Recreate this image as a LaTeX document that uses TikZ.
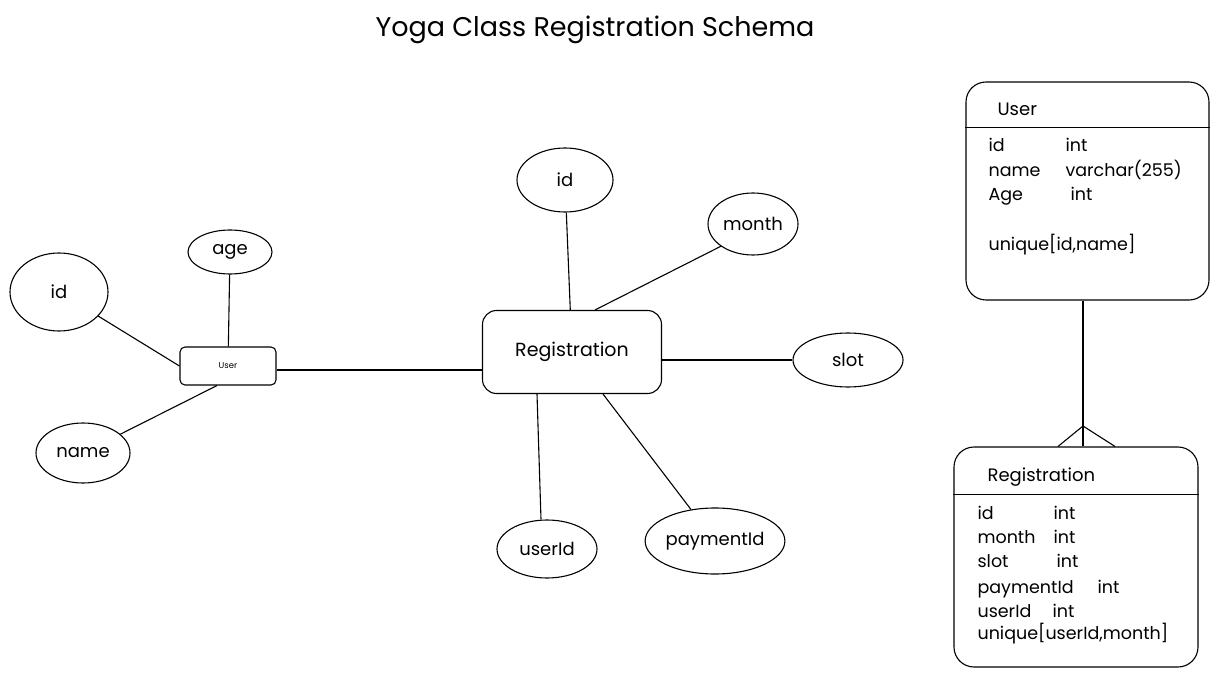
\documentclass[tikz,border=0pt]{standalone}
\usepackage{fontspec}
\setmainfont{Poppins}
\usetikzlibrary{shapes.geometric}
\begin{document}
\begin{tikzpicture}[x=1pt,y=-1pt,line width=1.1pt,
  attr/.style={ellipse,draw,inner sep=0pt,font=\fontsize{18}{20}\selectfont},
  entity/.style={rectangle,draw,rounded corners=14pt,inner sep=0pt,font=\fontsize{19}{21}\selectfont},
  smallentity/.style={rectangle,draw,rounded corners=5pt,inner sep=0pt,font=\fontsize{8.5}{10}\selectfont},
  tbl/.style={rectangle,draw,rounded corners=20pt,inner sep=0pt},
  row/.style={anchor=west,inner sep=0pt,text height=12pt,text depth=4pt,font=\fontsize{17.5}{19}\selectfont},
  conn/.style={line width=1.1pt}]
\useasboundingbox (0,0) rectangle (1218,687);
\fill[white] (0,0) rectangle (1218,687);

% title
\node[font=\fontsize{27}{31}\selectfont] (title) at (595,30) {Yoga Class Registration Schema};

% left ER part
\node[attr,minimum width=98pt,minimum height=78pt] (lid) at (59,292) {id};
\node[attr,minimum width=84pt,minimum height=44pt] (age) at (230,252) {age};
\node[smallentity,minimum width=96pt,minimum height=38pt] (user) at (228,366) {User};
\node[attr,minimum width=94pt,minimum height=60pt] (name) at (83,453) {name};

\node[entity,minimum width=179pt,minimum height=83pt] (reg) at (572,352) {Registration};
\node[attr,minimum width=96pt,minimum height=64pt] (rid) at (565,180) {id};
\node[attr,minimum width=90pt,minimum height=62pt] (month) at (753,224) {month};
\node[attr,minimum width=110pt,minimum height=54pt] (slot) at (848,360) {slot};
\node[attr,minimum width=100pt,minimum height=58pt] (uid) at (547,549) {userId};
\node[attr,minimum width=118pt,minimum height=66pt] (pid) at (715,541) {paymentId};

\draw[conn] (lid) -- (user.west);
\draw[conn] (age) -- (user);
\draw[conn] (name) -- ([xshift=-11pt]user.south);
\draw[conn] ([yshift=-4pt]user.east) -- ([yshift=-4pt]user.east -| reg.west);

\draw[conn] (rid) -- (reg);
\draw[conn] (month.south west) -- ([xshift=23pt]reg.north);
\draw[conn] (reg.east |- slot.west) -- (slot.west);
\draw[conn] ([xshift=-35pt]reg.south) -- ([xshift=-6pt]uid.north);
\draw[conn] ([xshift=31pt]reg.south) -- (pid);

% right tables
\node[tbl,minimum width=243pt,minimum height=218pt] (ut) at (1087.5,191) {};
\draw[conn] ([yshift=-46pt]ut.north west) -- ([yshift=-46pt]ut.north east);
\node[row,font=\fontsize{18}{20}\selectfont] (uth) at (997,112) {User};
\node[row] (u1) at (988,148) {id};
\node[row] (u1t) at (1065,148) {int};
\node[row] (u2) at (988,173) {name};
\node[row] (u2t) at (1065,173) {varchar(255)};
\node[row] (u3) at (988,197) {Age};
\node[row] (u3t) at (1070,197) {int};
\node[row] (u4) at (988,247) {unique[id,name]};

\node[tbl,minimum width=244pt,minimum height=220pt] (rt) at (1076,557) {};
\draw[conn] ([yshift=-48pt]rt.north west) -- ([yshift=-48pt]rt.north east);
\node[row,font=\fontsize{18}{20}\selectfont] (rth) at (987,477) {Registration};
\node[row] (r1) at (977,515) {id};
\node[row] (r1t) at (1053,515) {int};
\node[row] (r2) at (977,539) {month};
\node[row] (r2t) at (1053,539) {int};
\node[row] (r3) at (977,563) {slot};
\node[row] (r3t) at (1056,563) {int};
\node[row] (r4) at (977,589) {paymentId};
\node[row] (r4t) at (1097,589) {int};
\node[row] (r5) at (977,613) {userId};
\node[row] (r5t) at (1052,613) {int};
\node[row] (r6) at (977,635) {unique[userId,month]};

% relationship with crow's foot
\coordinate (cf) at (1083,426);
\draw[conn] ([xshift=-4.5pt]ut.south) -- ([xshift=-4.5pt]ut.south |- rt.north);
\draw[conn] (cf) -- ([xshift=-18pt]rt.north);
\draw[conn] (cf) -- ([xshift=39pt]rt.north);
\end{tikzpicture}
\end{document}
